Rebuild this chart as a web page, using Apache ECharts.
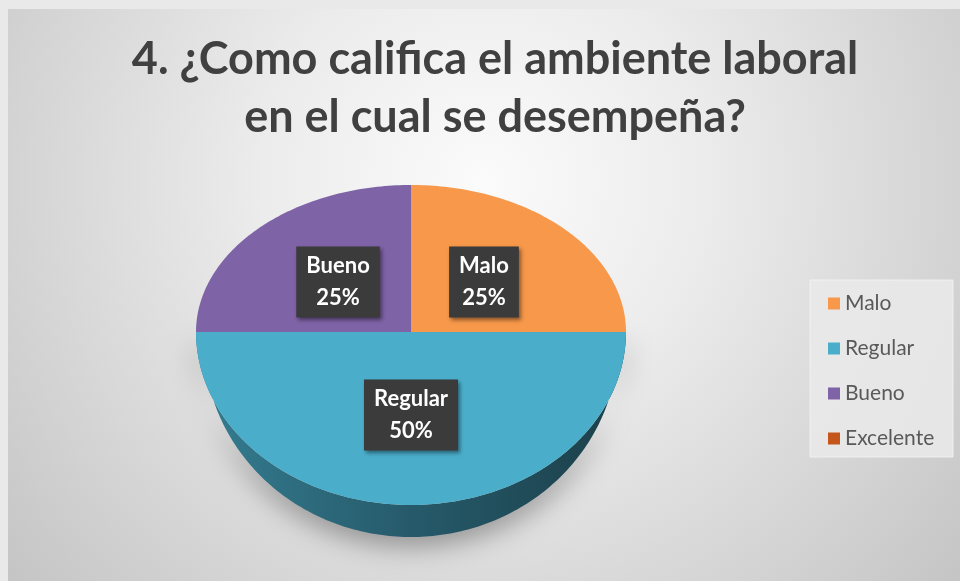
<!DOCTYPE html>
<html>
<head>
<meta charset="utf-8">
<script src="https://cdn.jsdelivr.net/npm/echarts@6/dist/echarts.min.js"></script>
<style>html,body{margin:0;padding:0;background:#e9e9e9;}#main{width:960px;height:581px;}</style>
</head>
<body>
<div id="main"></div>
<script>
const titleLines = ['4. ¿Como califica el ambiente laboral', 'en el cual se desempeña?'];
const categories = ['Malo', 'Regular', 'Bueno', 'Excelente'];
const values = [25, 50, 25, 0];
const colors = ['#f7984a', '#4aaecb', '#7f63a7', '#c4561c'];

// pie geometry (layout only)
const CX = 411, CY = 332, RX = 215, RY_TOP = 147, RY_BOT = 173;
const WALL_CY = 342, WALL_RX = 207, WALL_RY = 195;
const LABEL_F = 0.48;

const total = values.reduce((a, b) => a + b, 0);
const cum = [0];
values.forEach((v, i) => cum.push(cum[i] + v / total));

function facePt(deg) {
  const t = deg * Math.PI / 180;
  const s = Math.sin(t);
  return [CX + RX * Math.cos(t), CY - (s > 0 ? RY_TOP : RY_BOT) * s];
}
function wallPt(deg) {
  const t = deg * Math.PI / 180;
  const s = Math.sin(t);
  return [CX + WALL_RX * Math.cos(t), (s > 0 ? CY : WALL_CY) - (s > 0 ? RY_TOP : WALL_RY) * s];
}
function shade(hex, k) {
  const n = parseInt(hex.slice(1), 16);
  const r = Math.round(((n >> 16) & 255) * k), g = Math.round(((n >> 8) & 255) * k), b = Math.round((n & 255) * k);
  return 'rgb(' + r + ',' + g + ',' + b + ')';
}

function renderItem(params, api) {
  const i = params.dataIndex;
  const v = api.value(0);
  if (!v) return null;
  const a0 = 90 - 360 * cum[i];       // start angle (clockwise from 12 o'clock)
  const a1 = 90 - 360 * cum[i + 1];
  const children = [];
  // side wall for the part of the slice in the front half
  for (let k = -1; k <= 1; k++) {
    const lo = Math.max(a1, -180 + 360 * k), hi = Math.min(a0, 0 + 360 * k);
    if (hi - lo > 0.01) {
      const pts = [];
      const n = Math.max(2, Math.ceil(hi - lo));
      for (let j = 0; j <= n; j++) pts.push(facePt(hi - (hi - lo) * j / n));
      for (let j = 0; j <= n; j++) pts.push(wallPt(lo + (hi - lo) * j / n));
      children.push({
        type: 'polygon', z2: 1,
        shape: { points: pts },
        style: {
          fill: { type: 'linear', x: 0, y: 0, x2: 1, y2: 0, colorStops: [
            { offset: 0, color: shade(colors[i], 0.72) },
            { offset: 0.5, color: shade(colors[i], 0.52) },
            { offset: 1, color: shade(colors[i], 0.36) }
          ]},
          shadowBlur: 28, shadowColor: 'rgba(0,0,0,0.38)', shadowOffsetY: 8
        }
      });
    }
  }
  // top face
  const face = [[CX, CY]];
  const n = Math.max(2, Math.ceil(a0 - a1));
  for (let j = 0; j <= n; j++) face.push(facePt(a0 - (a0 - a1) * j / n));
  children.push({ type: 'polygon', z2: 10, shape: { points: face }, style: { fill: colors[i] } });
  // data label
  const mid = (a0 + a1) / 2 * Math.PI / 180;
  const s = Math.sin(mid);
  const lx = CX + RX * LABEL_F * Math.cos(mid);
  const ly = CY - (s > 0 ? RY_TOP : RY_BOT) * LABEL_F * s;
  children.push({
    type: 'text', z2: 20, x: lx, y: ly,
    style: {
      text: categories[i] + '\n' + Math.round(v / total * 100) + '%',
      fill: '#ffffff', fontSize: 22, fontWeight: 'bold', fontFamily: 'Lato',
      align: 'center', verticalAlign: 'middle', lineHeight: 32,
      backgroundColor: '#3b3b3b', padding: [4, 10, 3, 10],
      shadowBlur: 4, shadowColor: 'rgba(0,0,0,0.45)', shadowOffsetX: 2, shadowOffsetY: 2
    }
  });
  return { type: 'group', children: children };
}

const chart = echarts.init(document.getElementById('main'), null, { renderer: 'canvas' });
chart.setOption({
  backgroundColor: '#e9e9e9',
  animation: false,
  title: {
    text: titleLines.join('\n'),
    left: 490, top: 25, textAlign: 'center',
    textStyle: { fontSize: 45, fontWeight: 'bold', fontFamily: 'Lato', color: '#404040', lineHeight: 58 }
  },
  graphic: [
    { type: 'rect', z: -10, silent: true, shape: { x: 8, y: 9, width: 952, height: 572 },
      style: { fill: { type: 'radial', x: 0.5, y: 0.3, r: 1.1, colorStops: [
        { offset: 0, color: '#fbfbfb' }, { offset: 0.35, color: '#ececec' }, { offset: 1, color: '#c4c4c4' }
      ]}}},
    { type: 'rect', z: -5, silent: true, shape: { x: 810, y: 280, width: 143, height: 177 },
      style: { fill: 'rgba(234,234,234,0.85)', stroke: 'rgba(245,245,245,0.8)', lineWidth: 1 } }
  ],
  legend: {
    orient: 'vertical', left: 823, top: 288,
    icon: 'rect', itemWidth: 12, itemHeight: 12, itemGap: 24,
    data: categories,
    textStyle: { fontSize: 21, fontFamily: 'Lato', color: '#595959', lineHeight: 20 }
  },
  series: [
    {
      type: 'custom', coordinateSystem: 'none', silent: true,
      renderItem: renderItem,
      data: values.map(v => [v])
    },
    {
      type: 'pie', radius: [0, 0], center: [CX, CY], silent: true,
      label: { show: false }, labelLine: { show: false },
      data: categories.map((c, i) => ({ name: c, value: values[i], itemStyle: { color: colors[i] } }))
    }
  ]
});
</script>
</body>
</html>
